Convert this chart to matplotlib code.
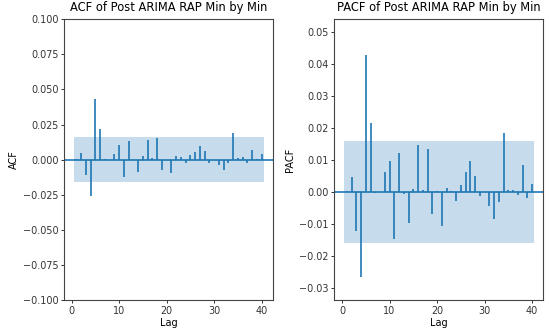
import numpy as np
import matplotlib
matplotlib.use("Agg")
import matplotlib.pyplot as plt

# lags 1..40 (lag 0 not shown)
lags = np.arange(1, 41)

acf_vals = [0.0002, 0.0047, -0.0111, -0.0260, 0.0431, 0.0218, 0.0005, 0.0001,
            0.0038, 0.0107, -0.0123, 0.0130, -0.0005, -0.0088, 0.0024, 0.0137,
            0.0014, 0.0152, -0.0076, 0.0001, -0.0095, 0.0024, 0.0017, -0.0024,
            0.0031, 0.0054, 0.0095, 0.0059, -0.0021, 0.0001, -0.0040, -0.0071,
            -0.0026, 0.0190, 0.0009, 0.0017, -0.0024, 0.0071, 0.0002, 0.0040]

pacf_vals = [0.0002, 0.0046, -0.0121, -0.0265, 0.0428, 0.0214, -0.0003, 0.0001,
             0.0062, 0.0096, -0.0147, 0.0122, -0.0006, -0.0098, 0.0008, 0.0147,
             0.0006, 0.0134, -0.0070, 0.0002, -0.0106, 0.0011, 0.0003, -0.0029,
             0.0021, 0.0062, 0.0097, 0.0049, -0.0013, -0.0002, -0.0043, -0.0086,
             -0.0033, 0.0183, 0.0005, 0.0006, -0.0010, 0.0085, -0.0018, 0.0024]

conf = 0.016  # 95% band half-width

acf_ticks = [-0.100, -0.075, -0.050, -0.025, 0.000, 0.025, 0.050, 0.075, 0.100]
pacf_ticks = [-0.03, -0.02, -0.01, 0.00, 0.01, 0.02, 0.03, 0.04, 0.05]

fig = plt.figure(figsize=(5.5, 3.33), dpi=100)
ax1 = fig.add_axes([0.1164, 0.099, 0.38, 0.843])
ax2 = fig.add_axes([0.608, 0.099, 0.38, 0.843])

c = '#1f77b4'
band_x = [lags[0] - 0.5, lags[-1] + 0.5]

for ax, vals, name in [(ax1, acf_vals, 'ACF'), (ax2, pacf_vals, 'PACF')]:
    ax.vlines(lags, 0, vals, color=c, lw=1.2)
    ax.axhline(0, color=c, lw=1.2)
    ax.fill_between(band_x, -conf, conf, color=c, alpha=0.25, lw=0)
    ax.set_xlim(-1.6, 42.4)
    ax.set_xticks([0, 10, 20, 30, 40])
    ax.set_title(name + ' of Post ARIMA RAP Min by Min', fontsize=8.3)
    ax.set_xlabel('Lag', fontsize=7, labelpad=2)
    ax.set_ylabel(name, fontsize=7, labelpad=3)
    ax.tick_params(labelsize=6.9, length=2.5, width=0.7, pad=1.5, colors='#333333')
    for s in ax.spines.values():
        s.set_linewidth(0.8)
        s.set_color('#444444')

ax1.set_ylim(-0.1, 0.1)
ax1.set_yticks(acf_ticks)
ax1.set_yticklabels(['%.3f' % t if t != 0 else '0.000' for t in acf_ticks])
ax2.set_ylim(-0.0338, 0.0539)
ax2.set_yticks(pacf_ticks)
ax2.set_yticklabels(['%.2f' % t if t != 0 else '0.00' for t in pacf_ticks])

for ax in (ax1, ax2):
    labs = [l.get_text().replace('-', '\u2212') for l in ax.get_yticklabels()]
    ax.set_yticklabels(labs)

fig.savefig('out.png', dpi=100)
